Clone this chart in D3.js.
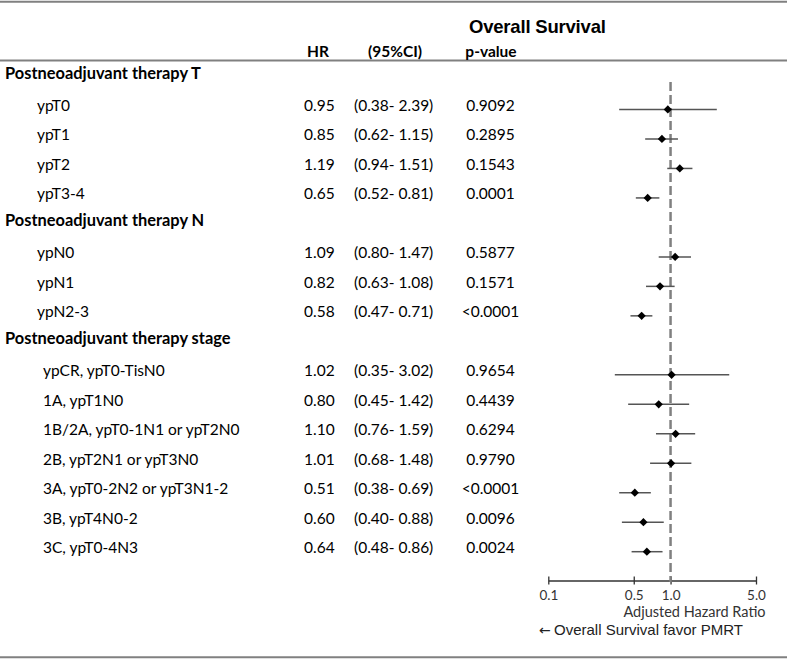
<!DOCTYPE html>
<html><head><meta charset="utf-8">
<script src="https://cdn.jsdelivr.net/npm/d3@7"></script>
<style>
body{margin:0;background:#fff;}
svg{display:block;}
</style></head>
<body>
<div id="chart"></div>
<script>
// ---- data ----
const groups = ["Postneoadjuvant therapy T","Postneoadjuvant therapy N","Postneoadjuvant therapy stage"];
const labels = [
  ["ypT0","ypT1","ypT2","ypT3-4"],
  ["ypN0","ypN1","ypN2-3"],
  ["ypCR, ypT0-TisN0","1A, ypT1N0","1B/2A, ypT0-1N1 or ypT2N0","2B, ypT2N1 or ypT3N0","3A, ypT0-2N2 or ypT3N1-2","3B, ypT4N0-2","3C, ypT0-4N3"]
];
const hr    = [[0.95,0.85,1.19,0.65],[1.09,0.82,0.58],[1.02,0.80,1.10,1.01,0.51,0.60,0.64]];
const ciLow = [[0.38,0.62,0.94,0.52],[0.80,0.63,0.47],[0.35,0.45,0.76,0.68,0.38,0.40,0.48]];
const ciHigh= [[2.39,1.15,1.51,0.81],[1.47,1.08,0.71],[3.02,1.42,1.59,1.48,0.69,0.88,0.86]];
const pvals = [["0.9092","0.2895","0.1543","0.0001"],["0.5877","0.1571","<0.0001"],["0.9654","0.4439","0.6294","0.9790","<0.0001","0.0096","0.0024"]];
const tickValues = [0.1,0.5,1.0,5.0];
const title = "Overall Survival";
const colHeaders = ["HR","(95%CI)","p-value"];
const xLabel = "Adjusted Hazard Ratio";
const noteArrow = "\u2190";
const note = "Overall Survival favor PMRT";

// ---- build rows ----
const rows = [];
groups.forEach((g,gi)=>{
  rows.push({key:"h"+gi, header:true, label:g});
  labels[gi].forEach((l,i)=>rows.push({key:"r"+gi+"_"+i, header:false, group:gi, label:l,
    hr:hr[gi][i], lo:ciLow[gi][i], hi:ciHigh[gi][i], p:pvals[gi][i]}));
});

const W=790,H=667;
const svg=d3.select("#chart").append("svg").attr("width",W).attr("height",H);
const tableFont="Lato, 'Open Sans', sans-serif";

const y=d3.scalePoint().domain(rows.map(r=>r.key)).range([80,551.7]);
const x=d3.scaleLog().domain([0.1,5]).range([548.3,756]);

// horizontal rules
const ruleColor="#808080";
[1.7,60.5,657.3].forEach(yy=>{
  svg.append("line").attr("x1",0).attr("x2",787).attr("y1",yy).attr("y2",yy)
    .attr("stroke",ruleColor).attr("stroke-width",2);
});

// title and column headers
svg.append("text").attr("x",469).attr("y",33).text(title)
  .attr("font-family","'Liberation Sans', Arial, sans-serif").attr("font-weight","bold")
  .attr("font-size",18.5).attr("fill","#000").attr("letter-spacing","-0.2");
const headX=[318,395,491];
colHeaders.forEach((h,i)=>{
  svg.append("text").attr("x",headX[i]).attr("y",56.5).attr("text-anchor","middle").text(h)
    .attr("font-family",tableFont).attr("font-weight","bold").attr("font-size",15.5).attr("fill","#000");
});

// table rows
const fmt=d3.format(".2f");
const rg=svg.append("g").attr("font-family",tableFont).attr("font-size",15.5).attr("fill","#000");
rows.forEach(r=>{
  const yy=y(r.key);
  if(r.header){
    rg.append("text").attr("x",5).attr("y",yy-1).attr("font-weight","bold").attr("font-size",16.4).text(r.label);
  } else {
    rg.append("text").attr("x",r.group===2?43:37).attr("y",yy+1.5).text(r.label);
    rg.append("text").attr("x",304).attr("y",yy+1.5).text(fmt(r.hr));
    rg.append("text").attr("x",354).attr("y",yy+1.5).text("("+fmt(r.lo)+"- "+fmt(r.hi)+")");
    rg.append("text").attr("x",490.5).attr("y",yy+1.5).attr("text-anchor","middle").text(r.p);
  }
});

// axis
const axisY=580.5;
const ax=svg.append("g").attr("transform",`translate(0,${axisY})`)
  .call(d3.axisBottom(x).tickValues(tickValues).tickFormat(d3.format(".1f")).tickSizeOuter(0).tickSizeInner(4));
ax.select(".domain").attr("stroke","#333").attr("stroke-width",1.3);
ax.selectAll(".tick line").attr("y1",-4).attr("y2",4).attr("stroke","#333").attr("stroke-width",1.3);
ax.selectAll(".tick text").attr("y",19).attr("dy",0).attr("fill","#333")
  .attr("font-family",tableFont).attr("font-size",13.5);

// reference line at 1
svg.append("line").attr("x1",x(1)).attr("x2",x(1)).attr("y1",82).attr("y2",582)
  .attr("stroke","#808080").attr("stroke-width",2.5).attr("stroke-dasharray","9,4");

// CI lines and markers
const data=rows.filter(r=>!r.header);
svg.append("g").selectAll("line").data(data).join("line")
  .attr("x1",d=>x(d.lo)).attr("x2",d=>x(d.hi)).attr("y1",d=>y(d.key)).attr("y2",d=>y(d.key))
  .attr("stroke","#555").attr("stroke-width",1.5);
svg.append("g").selectAll("path").data(data).join("path")
  .attr("d",d3.symbol(d3.symbolSquare,34))
  .attr("transform",d=>`translate(${x(d.hr)},${y(d.key)}) rotate(45)`)
  .attr("fill","#000");

// x label and note
svg.append("text").attr("x",694.5).attr("y",617).attr("text-anchor","middle").text(xLabel)
  .attr("font-family",tableFont).attr("font-size",14.5).attr("fill","#333");
const nt=svg.append("text").attr("x",539).attr("y",635)
  .attr("font-family","'Liberation Sans', Arial, sans-serif").attr("font-size",15).attr("fill","#222");
nt.append("tspan").attr("font-family","'DejaVu Sans', sans-serif").attr("font-size",14).text(noteArrow);
nt.append("tspan").attr("x",554).text(note);
</script>
</body></html>
